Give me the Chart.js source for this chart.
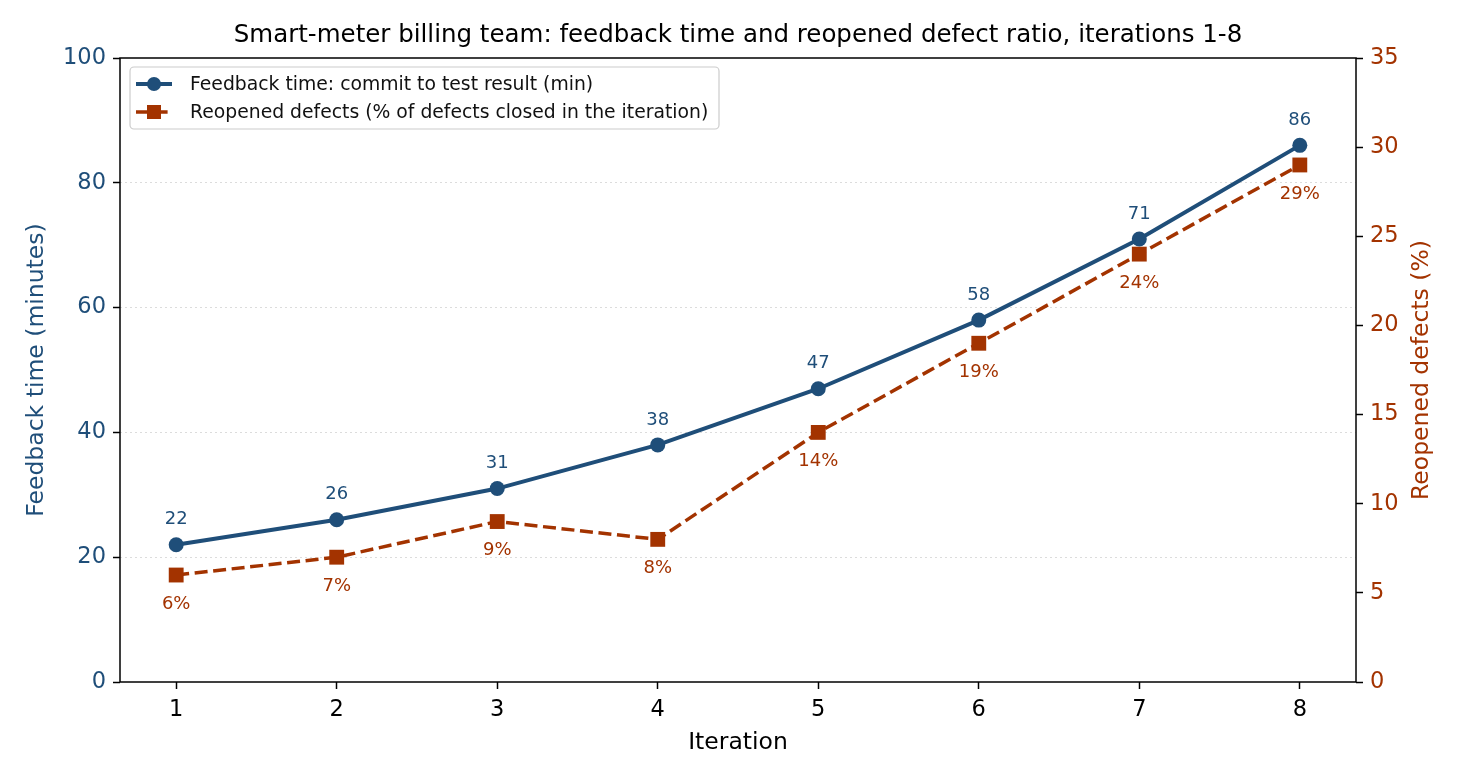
<!DOCTYPE html>
<html>
<head>
<meta charset="utf-8">
<script src="https://cdn.jsdelivr.net/npm/chart.js@4"></script>
<style>
  html, body { margin: 0; padding: 0; background: #fff; }
  #wrap { width: 1462px; height: 781px; }
</style>
</head>
<body>
<div id="wrap"><canvas id="chart" width="1462" height="781"></canvas></div>
<script>
const iterations = [1, 2, 3, 4, 5, 6, 7, 8];
const feedbackMinutes = [22, 26, 31, 38, 47, 58, 71, 86];
const reopenedPct = [6, 7, 9, 8, 14, 19, 24, 29];
const leftTicks = [0, 20, 40, 60, 80, 100];
const rightTicks = [0, 5, 10, 15, 20, 25, 30, 35];

const BLUE = '#1f4e79';
const ORANGE = '#a33300';
const FONT = '"DejaVu Sans", sans-serif';

Chart.defaults.font.family = FONT;
Chart.defaults.color = '#000';

const overlay = {
    id: 'overlay',
    afterDatasetsDraw(chart) {
        const ctx = chart.ctx;
        const area = chart.chartArea;

        // point labels
        ctx.save();
        ctx.font = '18px ' + FONT;
        ctx.textAlign = 'center';
        ctx.textBaseline = 'middle';
        chart.getDatasetMeta(0).data.forEach((pt, i) => {
            ctx.fillStyle = BLUE;
            ctx.fillText(String(feedbackMinutes[i]), pt.x, pt.y - 25);
        });
        chart.getDatasetMeta(1).data.forEach((pt, i) => {
            ctx.fillStyle = ORANGE;
            ctx.fillText(reopenedPct[i] + '%', pt.x, pt.y + 29);
        });
        ctx.restore();

        // frame
        ctx.save();
        ctx.strokeStyle = '#000';
        ctx.lineWidth = 1.5;
        ctx.strokeRect(area.left, area.top, area.right - area.left, area.bottom - area.top);
        ctx.restore();

        // legend
        ctx.save();
        const lx = area.left + 10, ly = area.top + 9, lw = 589, lh = 62;
        ctx.fillStyle = 'rgba(255,255,255,0.85)';
        ctx.strokeStyle = '#cccccc';
        ctx.lineWidth = 1.2;
        ctx.beginPath();
        ctx.roundRect(lx, ly, lw, lh, 4);
        ctx.fill();
        ctx.stroke();
        const rows = [
            { text: 'Feedback time: commit to test result (min)', color: BLUE, dash: [], marker: 'circle', lw: 4 },
            { text: 'Reopened defects (% of defects closed in the iteration)', color: ORANGE, dash: [13, 5.6], marker: 'rect', lw: 3.5 }
        ];
        rows.forEach((r, i) => {
            const y = ly + 17 + i * 28;
            ctx.strokeStyle = r.color;
            ctx.fillStyle = r.color;
            ctx.lineWidth = r.lw;
            ctx.setLineDash(r.dash);
            ctx.beginPath();
            ctx.moveTo(lx + 6, y);
            ctx.lineTo(lx + 42, y);
            ctx.stroke();
            ctx.setLineDash([]);
            if (r.marker === 'circle') {
                ctx.beginPath();
                ctx.arc(lx + 24, y, 7, 0, Math.PI * 2);
                ctx.fill();
            } else {
                ctx.fillRect(lx + 17, y - 7, 14, 14);
            }
            ctx.fillStyle = '#111';
            ctx.font = '18.8px ' + FONT;
            ctx.textBaseline = 'middle';
            ctx.textAlign = 'left';
            ctx.fillText(r.text, lx + 60, y + 1);
        });
        ctx.restore();

        // title
        ctx.save();
        ctx.font = '24.5px ' + FONT;
        ctx.fillStyle = '#000';
        ctx.textAlign = 'center';
        ctx.textBaseline = 'middle';
        ctx.fillText('Smart-meter billing team: feedback time and reopened defect ratio, iterations 1-8',
            (area.left + area.right) / 2, 36);
        ctx.restore();

        // right axis title, reading bottom to top
        ctx.save();
        ctx.font = '23.5px ' + FONT;
        ctx.fillStyle = ORANGE;
        ctx.textAlign = 'center';
        ctx.textBaseline = 'middle';
        ctx.translate(1422, (area.top + area.bottom) / 2);
        ctx.rotate(-Math.PI / 2);
        ctx.fillText('Reopened defects (%)', 0, 0);
        ctx.restore();
    }
};

const ctx = document.getElementById('chart').getContext('2d');
const chart = new Chart(ctx, {
    type: 'line',
    data: {
        datasets: [
            {
                label: 'Feedback time: commit to test result (min)',
                data: iterations.map((x, i) => ({ x: x, y: feedbackMinutes[i] })),
                yAxisID: 'y',
                borderColor: BLUE,
                backgroundColor: BLUE,
                borderWidth: 4,
                pointStyle: 'circle',
                pointRadius: 7.5,
                pointBorderWidth: 0,
                pointBackgroundColor: BLUE,
                tension: 0,
                order: 1
            },
            {
                label: 'Reopened defects (% of defects closed in the iteration)',
                data: iterations.map((x, i) => ({ x: x, y: reopenedPct[i] })),
                yAxisID: 'y1',
                borderColor: ORANGE,
                backgroundColor: ORANGE,
                borderWidth: 3.5,
                borderDash: [13, 5.6],
                pointStyle: 'rect',
                pointRadius: 10.5,
                pointBorderWidth: 0,
                pointBackgroundColor: ORANGE,
                tension: 0,
                order: 2
            }
        ]
    },
    options: {
        responsive: false,
        animation: false,
        layout: { padding: { top: 58, left: 0, right: 0, bottom: 0 } },
        plugins: {
            legend: { display: false },
            title: { display: false },
            tooltip: { enabled: false }
        },
        scales: {
            x: {
                type: 'linear',
                min: 0.65,
                max: 8.35,
                afterBuildTicks: (scale) => { scale.ticks = iterations.map(v => ({ value: v })); },
                afterFit: (scale) => { scale.height = 99; },
                ticks: { font: { size: 22.5 }, color: '#000', padding: 8, autoSkip: false },
                grid: { drawOnChartArea: false, tickColor: '#000', tickLength: 7, tickWidth: 1.5 },
                border: { display: false },
                title: { display: true, text: 'Iteration', font: { size: 23.5 }, color: '#000', padding: { top: 4, bottom: 24 } }
            },
            y: {
                position: 'left',
                min: 0,
                max: 100,
                afterBuildTicks: (scale) => { scale.ticks = leftTicks.map(v => ({ value: v })); },
                afterFit: (scale) => { scale.width = 120; },
                ticks: { font: { size: 22.5 }, color: BLUE, padding: 7 },
                grid: {
                    color: (c) => (c.tick && (c.tick.value === 0 || c.tick.value === 100)) ? 'rgba(0,0,0,0)' : '#dcdcdc',
                    lineWidth: 1,
                    tickColor: '#000',
                    tickLength: 7,
                    tickWidth: 1.5
                },
                border: { display: false, dash: [2, 3] },
                title: { display: true, text: 'Feedback time (minutes)', font: { size: 23.5 }, color: BLUE, padding: { top: 23, bottom: 0 } }
            },
            y1: {
                position: 'right',
                min: 0,
                max: 35,
                afterBuildTicks: (scale) => { scale.ticks = rightTicks.map(v => ({ value: v })); },
                afterFit: (scale) => { scale.width = 106; },
                ticks: { font: { size: 22.5 }, color: ORANGE, padding: 7 },
                grid: { drawOnChartArea: false, tickColor: '#000', tickLength: 7, tickWidth: 1.5 },
                border: { display: false },
                title: { display: false }
            }
        }
    },
    plugins: [overlay]
});
</script>
</body>
</html>
